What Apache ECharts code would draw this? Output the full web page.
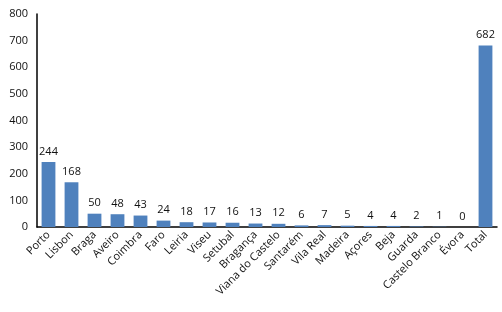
<!DOCTYPE html>
<html>
<head>
<meta charset="utf-8">
<script src="https://cdn.jsdelivr.net/npm/echarts@6/dist/echarts.min.js"></script>
<style>
  html, body { margin: 0; padding: 0; background: #fff; }
  #chart { width: 502px; height: 312px; }
</style>
</head>
<body>
<div id="chart"></div>
<script>
const places = ['Porto', 'Lisbon', 'Braga', 'Aveiro', 'Coimbra', 'Faro', 'Leiria', 'Viseu', 'Setubal', 'Bragança',
  'Viana do Castelo', 'Santarém', 'Vila Real', 'Madeira', 'Açores', 'Beja', 'Guarda', 'Castelo Branco', 'Évora', 'Total']
const counts = [244, 168, 50, 48, 43, 24, 18, 17, 16, 13, 12, 6, 7, 5, 4, 4, 2, 1, 0, 682]

const chart = echarts.init(document.getElementById('chart'))
chart.setOption({
  animation: false,
  grid: { left: 37, right: 5, top: 14, bottom: 85 },
  xAxis: {
    type: 'category',
    data: places,
    axisLine: { lineStyle: { color: '#000', width: 1.5 } },
    axisTick: { show: false },
    axisLabel: {
      rotate: 45,
      interval: 0,
      color: '#111',
      fontSize: 11,
      fontFamily: 'Open Sans',
      margin: 6
    }
  },
  yAxis: {
    type: 'value',
    min: 0,
    max: 800,
    interval: 100,
    axisLine: { show: true, lineStyle: { color: '#000', width: 1.5 } },
    axisTick: { show: false },
    splitLine: { show: false },
    axisLabel: {
      color: '#111',
      fontSize: 11,
      fontFamily: 'Open Sans',
      margin: 9
    }
  },
  series: [{
    type: 'bar',
    data: counts,
    barWidth: '60%',
    itemStyle: { color: '#4F81BD' },
    label: {
      show: true,
      position: 'top',
      color: '#111',
      fontSize: 11,
      fontFamily: 'Open Sans',
      distance: 5
    }
  }]
})
</script>
</body>
</html>
